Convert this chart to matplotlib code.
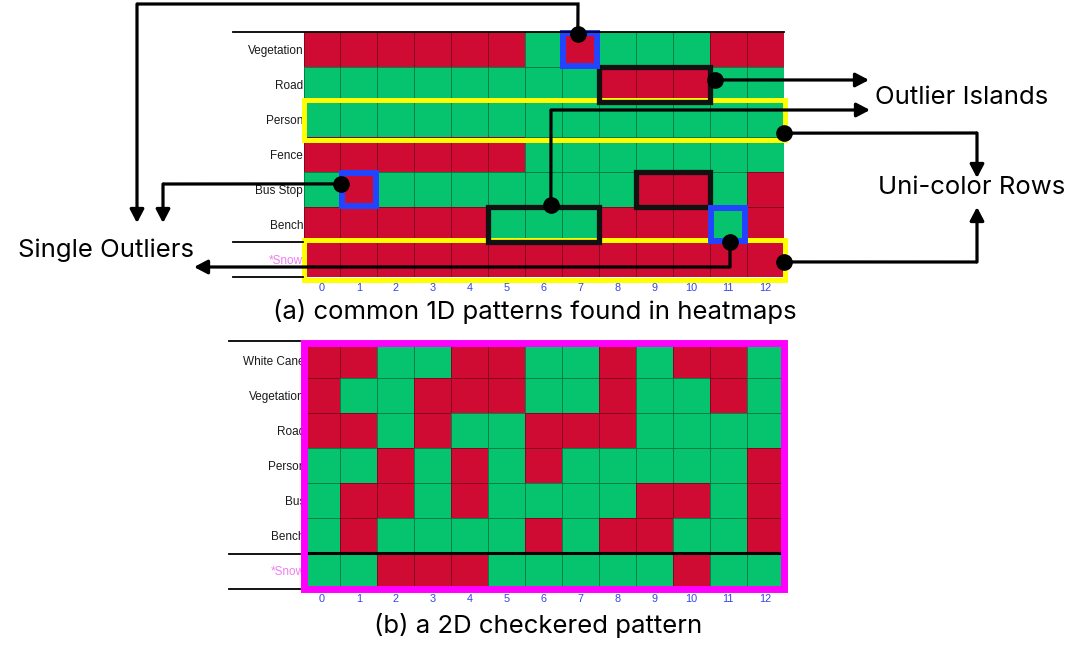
import matplotlib.pyplot as plt
import numpy as np
from matplotlib.colors import ListedColormap
from matplotlib.patches import Rectangle

plt.rcParams["font.family"] = ["Liberation Sans", "DejaVu Sans"]

# heatmap values: 1 = red, 0 = green
columns = list(range(13))

top_labels = ["Vegetation", "Road", "Person", "Fence", "Bus Stop", "Bench", "*Snow"]
top_values = [
    [1, 1, 1, 1, 1, 1, 0, 1, 0, 0, 0, 1, 1],
    [0, 0, 0, 0, 0, 0, 0, 0, 1, 1, 1, 0, 0],
    [0, 0, 0, 0, 0, 0, 0, 0, 0, 0, 0, 0, 0],
    [1, 1, 1, 1, 1, 1, 0, 0, 0, 0, 0, 0, 0],
    [0, 1, 0, 0, 0, 0, 0, 0, 0, 1, 1, 0, 1],
    [1, 1, 1, 1, 1, 0, 0, 0, 1, 1, 1, 0, 1],
    [1, 1, 1, 1, 1, 1, 1, 1, 1, 1, 1, 1, 1],
]

bottom_labels = ["White Cane", "Vegetation", "Road", "Person", "Bus", "Bench", "*Snow"]
bottom_values = [
    [1, 1, 0, 0, 1, 1, 0, 0, 1, 0, 1, 1, 0],
    [1, 0, 0, 1, 1, 1, 0, 0, 1, 0, 0, 1, 0],
    [1, 1, 0, 1, 0, 0, 1, 1, 1, 0, 0, 0, 0],
    [0, 0, 1, 0, 1, 0, 1, 0, 0, 0, 0, 0, 1],
    [0, 1, 1, 0, 1, 0, 0, 0, 0, 1, 1, 0, 1],
    [0, 1, 0, 0, 0, 0, 1, 0, 1, 1, 0, 0, 1],
    [0, 0, 1, 1, 1, 0, 0, 0, 0, 0, 1, 0, 0],
]

# patterns marked in the top heatmap
single_outliers = [(7, 0), (1, 4), (11, 5)]  # (column, row)
outlier_islands = [(8, 10, 1), (9, 10, 4), (5, 7, 5)]  # (first col, last col, row)
unicolor_rows = [2, 6]

caption_a = "(a) common 1D patterns found in heatmaps"
caption_b = "(b) a 2D checkered pattern"

W, H = 1080, 661
RED, GREEN = "#cf0a33", "#06c46e"
cmap = ListedColormap([GREEN, RED])

fig = plt.figure(figsize=(W / 100, H / 100), dpi=100)


def add_px_axes(x0, y0, x1, y1):
    return fig.add_axes([x0 / W, 1 - y1 / H, (x1 - x0) / W, (y1 - y0) / H])


def draw_heatmap(ax, values, labels, label_pad):
    ax.pcolormesh(np.arange(14) - 0.5, np.arange(8) - 0.5, np.array(values),
                  cmap=cmap, vmin=0, vmax=1,
                  edgecolors=(0, 0, 0, 0.35), linewidth=0.7)
    ax.set_xlim(-0.5, 12.5)
    ax.set_ylim(6.5, -0.5)
    ax.set_xticks(columns, [str(c) for c in columns])
    ax.set_yticks(range(len(labels)), labels)
    ax.tick_params(length=0)
    ax.tick_params(axis="x", labelcolor="#3344ee", labelsize=7.8, pad=4)
    ax.tick_params(axis="y", labelcolor="#1a1a1a", labelsize=8.5, pad=label_pad)
    ax.get_yticklabels()[-1].set_color("#f07ef0")
    for s in ax.spines.values():
        s.set_visible(False)


ax_top = add_px_axes(303.5, 32, 783.5, 277)
ax_bot = add_px_axes(303.5, 342.5, 783.5, 588.5)
draw_heatmap(ax_top, top_values, top_labels, 0.2)
draw_heatmap(ax_bot, bottom_values, bottom_labels, -1.0)

# boxes on the top heatmap
for r in unicolor_rows:
    ax_top.add_patch(Rectangle((-0.5, r - 0.56), 13.03, 1.15, fill=False,
                               ec="#ffff00", lw=3.6, clip_on=False, zorder=5))
for c0, c1, r in outlier_islands:
    ax_top.add_patch(Rectangle((c0 - 0.5, r - 0.5), c1 - c0 + 1, 1, fill=False,
                               ec="#111111", lw=3.8, clip_on=False, zorder=6))
for c, r in single_outliers:
    ax_top.add_patch(Rectangle((c - 0.46, r - 0.46), 0.92, 0.92, fill=False,
                               ec="#2244ff", lw=4.3, clip_on=False, zorder=6))

# frame and separator on the bottom heatmap
ax_bot.axhline(5.5, color="black", lw=2.2, zorder=4)
ax_bot.add_patch(Rectangle((-0.5, -0.5), 13, 7, fill=False, ec="#ff00ff",
                           lw=5, clip_on=False, zorder=6))

# overlay in pixel coordinates for connectors and text
ov = fig.add_axes([0, 0, 1, 1], zorder=10)
ov.set_xlim(0, W)
ov.set_ylim(H, 0)
ov.axis("off")

# table rules left of the heatmaps
for y, x0, x1 in [(31.5, 233, 783.5), (242, 233, 303), (277, 233, 303),
                  (341, 229, 300), (553.5, 229, 300), (589, 229, 300)]:
    ov.plot([x0, x1], [y, y], color="black", lw=1.3)


def to_px(ax, x, y):
    disp = ax.transData.transform((x, y))
    return ov.transData.inverted().transform(disp)


def connector(start, bends, tip):
    sx, sy = to_px(ax_top, *start)
    pts = [(sx, sy)] + bends
    ov.plot([p[0] for p in pts], [p[1] for p in pts], color="black", lw=2.3,
            solid_joinstyle="miter", solid_capstyle="butt")
    ov.annotate("", xy=tip, xytext=pts[-1],
                arrowprops=dict(arrowstyle="-|>,head_length=0.8,head_width=0.42",
                                color="black", lw=2.3, shrinkA=0, shrinkB=0))
    ov.plot(sx, sy, "o", color="black", ms=11)


# single outliers
connector((6.93, -0.43), [(578, 4), (137, 4)], (137, 223))
connector((0.52, 3.84), [(163, 184)], (163, 223))
connector((11.05, 5.5), [(730, 267)], (194, 267))
# outlier islands
connector((10.65, 0.87), [], (869, 80))
connector((6.2, 4.45), [(551, 110)], (870, 110))
# uni-color rows
connector((12.5, 2.39), [(977, 133)], (977, 178))
connector((12.5, 6.07), [(977, 262)], (977, 207))

label_font = dict(family=["Inter", "DejaVu Sans"], fontsize=18.5, color="black")
ov.text(18, 250, "Single Outliers", ha="left", va="center", **label_font)
ov.text(875, 97, "Outlier Islands", ha="left", va="center", **label_font)
ov.text(878, 187, "Uni-color Rows", ha="left", va="center", **label_font)
ov.text(535, 312, caption_a, ha="center", va="center", **label_font)
ov.text(538, 626, caption_b, ha="center", va="center", **label_font)

fig.savefig("out.png", dpi=100)
